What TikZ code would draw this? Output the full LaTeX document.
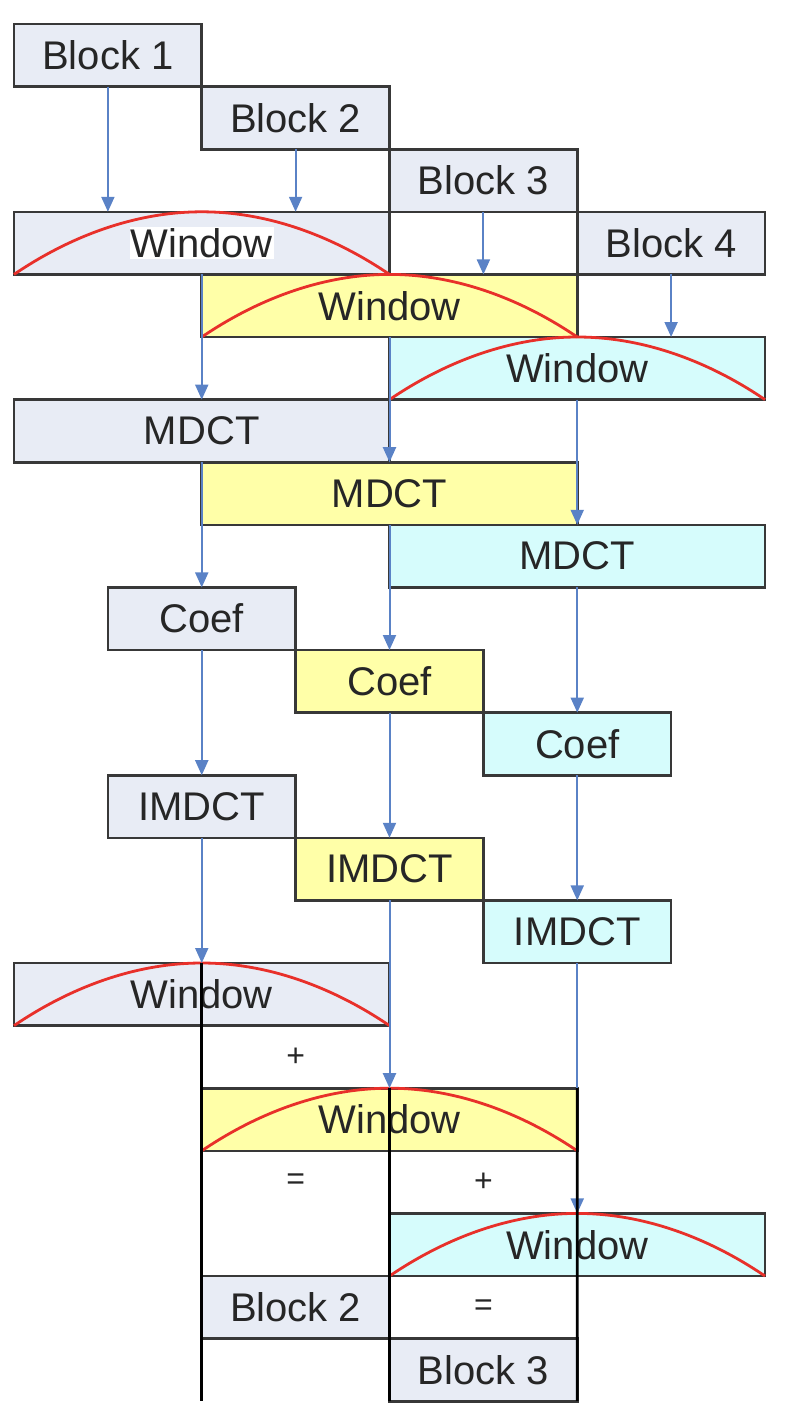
\documentclass[tikz,border=0pt]{standalone}
\usepackage{fontspec}
\setmainfont{Liberation Sans}
\usetikzlibrary{arrows.meta}
\definecolor{boxgray}{HTML}{E8ECF5}
\definecolor{boxyellow}{HTML}{FFFFA8}
\definecolor{boxcyan}{HTML}{D6FCFC}
\definecolor{arrowblue}{HTML}{5A82C6}
\definecolor{arcred}{HTML}{E8302A}
\begin{document}
\begin{tikzpicture}[x=1pt,y=-1pt,line width=2.6pt,
  every node/.style={font=\fontsize{40}{48}\selectfont,inner sep=0pt,outer sep=0pt,text=black!85},
  box/.style={draw=black!78,minimum height=62.6pt},
  one/.style={box,minimum width=187.75pt},
  two/.style={box,minimum width=375.5pt},
  gry/.style={fill=boxgray},ylw/.style={fill=boxyellow},cyn/.style={fill=boxcyan},
  flow/.style={draw=arrowblue,line width=2pt,-{Triangle[length=15pt,width=13pt]}},
  win/.style={draw=arcred,line width=2.8pt},
  sum/.style={font=\fontsize{32}{36}\selectfont}]
\useasboundingbox (0,0) rectangle (790,1408);
% input blocks
\node[one,gry] (B1) at (107.9,55.3) {Block 1};
\node[one,gry] (B2) at (295.6,117.9) {Block 2};
\node[one,gry] (B3) at (483.4,180.5) {Block 3};
\node[one,gry] (B4) at (671.1,243.1) {Block 4};
% analysis
\node[two,gry] (W1) at (201.75,243.1) {\fboxsep=1pt\colorbox{white}{Window}};
\node[two,ylw] (W2) at (389.5,305.7) {Window};
\node[two,cyn] (W3) at (577.25,368.3) {Window};
\node[two,gry] (M1) at (201.75,430.9) {MDCT};
\node[two,ylw] (M2) at (389.5,493.5) {MDCT};
\node[two,cyn] (M3) at (577.25,556.1) {MDCT};
\node[one,gry] (C1) at (201.75,618.7) {Coef};
\node[one,ylw] (C2) at (389.5,681.3) {Coef};
\node[one,cyn] (C3) at (577.25,743.9) {Coef};
% synthesis
\node[one,gry] (I1) at (201.75,806.5) {IMDCT};
\node[one,ylw] (I2) at (389.5,869.1) {IMDCT};
\node[one,cyn] (I3) at (577.25,931.7) {IMDCT};
\node[two,gry] (V1) at (201.75,994.3) {Window};
\node[two,ylw] (V2) at (389.5,1119.5) {Window};
\node[two,cyn] (V3) at (577.25,1244.7) {Window};
\node[one,gry] (O2) at (295.6,1307.3) {Block 2};
\node[one,gry] (O3) at (483.4,1369.9) {Block 3};
\node[sum] (P1) at (295.6,1056.9) {+};
\node[sum] (E1) at (295.6,1182.1) {=};
\node[sum] (P2) at (483.4,1182.1) {+};
\node[sum] (E2) at (483.4,1307.3) {=};
% window shapes
\foreach \w in {W1,W2,W3,V1,V2,V3}
  \draw[win] (\w.south west) parabola bend (\w.north) (\w.south east);
% data flow
\draw[flow] (B1.south) -- (B1.south |- W1.north);
\draw[flow] (B2.south) -- (B2.south |- W1.north);
\draw[flow] (B3.south) -- (B3.south |- W2.north);
\draw[flow] (B4.south) -- (B4.south |- W3.north);
\draw[flow] (W1.south) -- (M1.north);
\draw[flow] (W2.south) -- (M2.north);
\draw[flow] (W3.south) -- (M3.north);
\draw[flow] (M1.south) -- (C1.north);
\draw[flow] (M2.south) -- (C2.north);
\draw[flow] (M3.south) -- (C3.north);
\draw[flow] (C1.south) -- (I1.north);
\draw[flow] (C2.south) -- (I2.north);
\draw[flow] (C3.south) -- (I3.north);
\draw[flow] (I1.south) -- (V1.north);
\draw[flow] (I2.south) -- (V2.north);
\draw[flow] (I3.south) -- (V3.north);
% overlap boundaries
\begin{scope}[line width=2.8pt]
\draw (V1.north) -- (V1.north |- O3.south);
\draw (V2.north) -- (O3.south west);
\draw (V2.north east) -- (O3.south east);
\end{scope}
\end{tikzpicture}
\end{document}
